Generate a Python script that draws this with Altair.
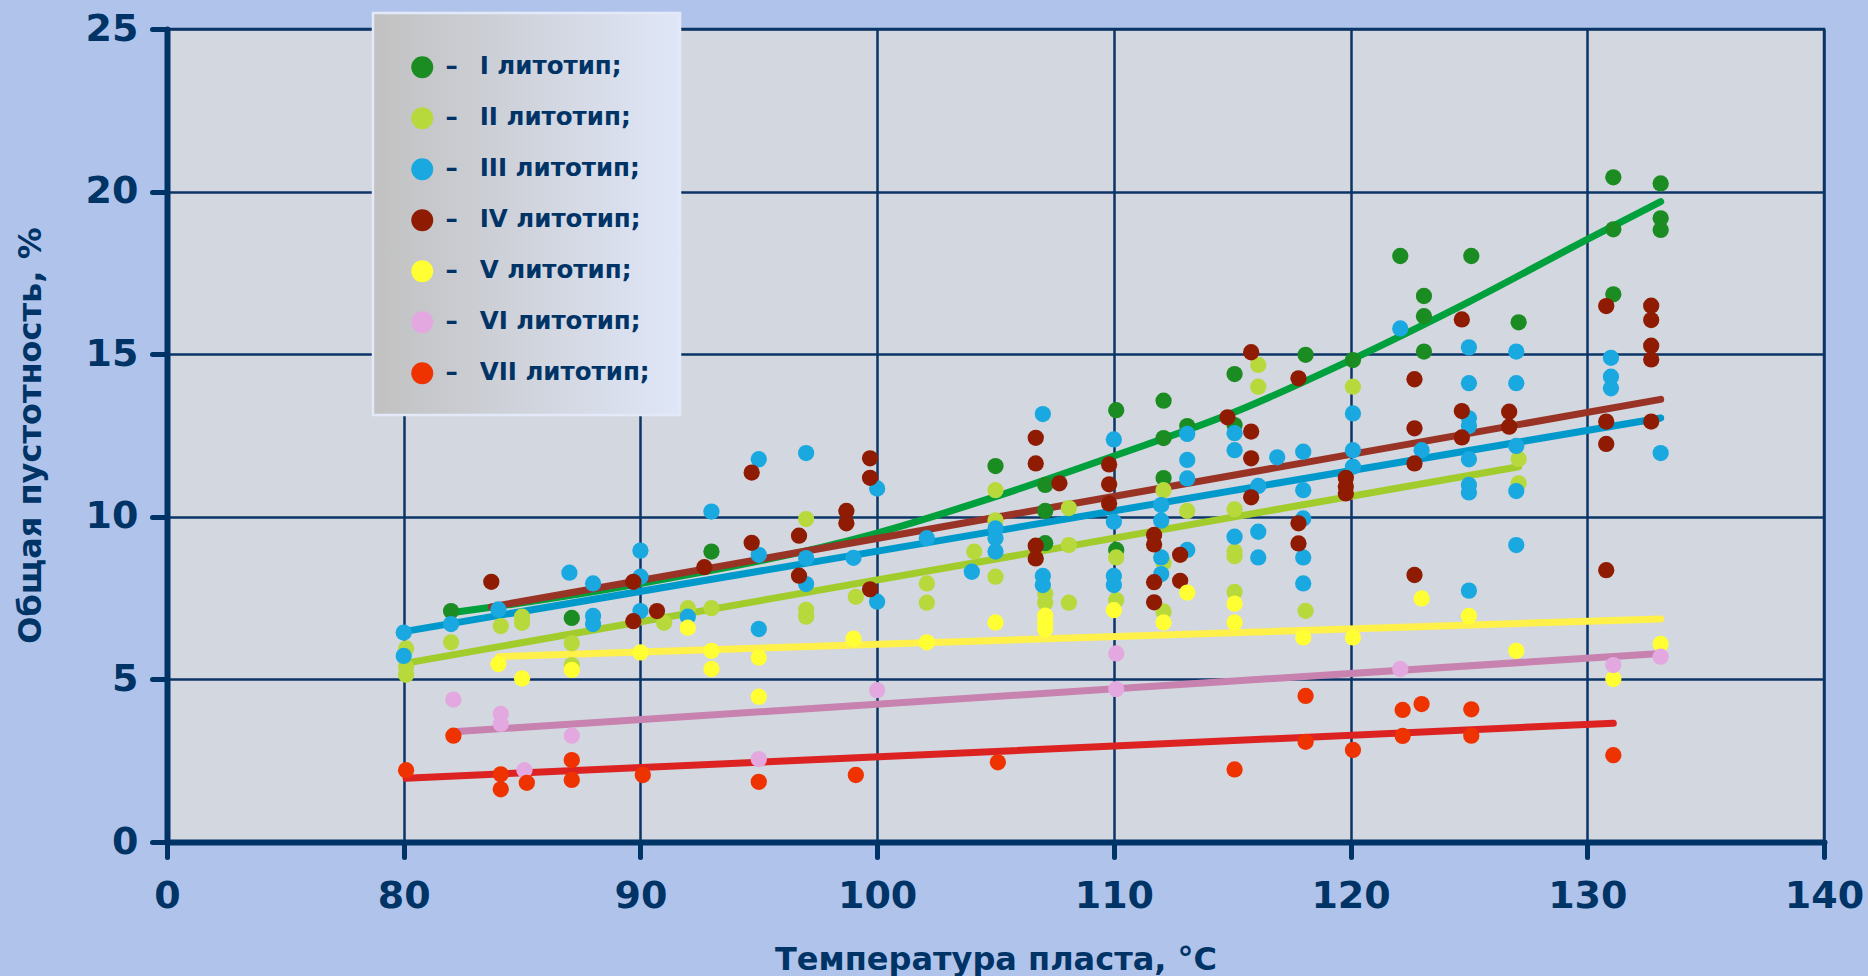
import altair as alt
import pandas as pd

# ---------------- data ----------------
SERIES = ["I литотип;", "II литотип;", "III литотип;", "IV литотип;",
          "V литотип;", "VI литотип;", "VII литотип;"]
POINT_COLORS = ["#1b8c22", "#b7d93c", "#19a9e0", "#8f1c02",
                "#ffff33", "#e4a8e0", "#ee3300"]
LINE_COLORS = ["#00a03c", "#a2cc2c", "#0099cc", "#993326",
               "#fff04a", "#c882b0", "#dd2222"]

I_x = [82, 87.1, 93, 105, 107.1, 107.1, 107.1, 110.1, 110.1, 112.1, 112.1, 112.1, 113.1,
       115.1, 115.1, 118.1, 120.1, 122.1, 123.1, 123.1, 123.1, 125.1, 127.1, 131.1, 131.1,
       131.1, 133.1, 133.1, 133.1]
I_y = [7.1, 6.89, 8.93, 11.56, 10.98, 10.18, 9.19, 13.28, 8.98, 13.57, 12.42, 11.19, 12.79,
       14.39, 12.82, 14.98, 14.82, 18.02, 16.79, 16.17, 15.08, 18.02, 15.98, 20.44, 18.84,
       16.84, 20.25, 19.18, 18.82]

II_x = [80.1, 80.1, 80.1, 82, 84.1, 85, 85, 87.1, 87.1, 91, 92, 93, 97, 97, 97, 99.1, 102.1,
        102.1, 104.1, 105, 105, 105, 107.1, 107.1, 108.1, 108.1, 108.1, 110.1, 110.1, 112.1,
        112.1, 112.1, 113.1, 115.1, 115.1, 115.1, 115.1, 116.1, 116.1, 118.1, 120.1, 127.1, 127.1]
II_y = [5.95, 5.39, 5.14, 6.14, 6.64, 6.93, 6.74, 6.11, 5.44, 6.74, 7.19, 7.19, 9.93, 7.14,
        6.93, 7.54, 7.95, 7.36, 8.93, 10.82, 9.89, 8.16, 7.64, 7.36, 9.13, 7.36, 10.27, 8.75,
        7.44, 10.82, 8.58, 7.09, 10.18, 10.23, 8.93, 8.79, 7.69, 14.67, 14.0, 7.11, 14.0,
        11.78, 11.03]

III_x = [80, 80, 82, 84, 87, 88, 88, 88, 90, 90, 90, 92, 93, 95, 95, 95, 97, 97, 97, 99, 100,
         100, 102.1, 104, 105, 105, 105, 107, 107, 107, 110, 110, 110, 110, 112, 112, 112, 112,
         113.1, 113.1, 113.1, 113.1, 115.1, 115.1, 115.1, 116.1, 116.1, 116.1, 116.9, 118, 118,
         118, 118, 118, 120.1, 120.1, 120.1, 122.1, 123, 125, 125, 125, 125, 125, 125, 125, 125,
         127, 127, 127, 127, 127, 131, 131, 131, 133.1]
III_y = [6.44, 5.72, 6.7, 7.15, 8.28, 7.95, 6.95, 6.7, 8.96, 8.16, 7.1, 6.93, 10.16, 11.77,
         8.83, 6.55, 11.96, 8.73, 7.93, 8.74, 10.87, 7.39, 9.34, 8.31, 9.64, 9.34, 8.93, 13.16,
         8.18, 7.9, 12.38, 9.85, 8.18, 7.9, 10.36, 9.88, 8.75, 8.24, 12.55, 11.75, 11.18, 8.98,
         12.57, 12.05, 9.39, 10.95, 9.54, 8.75, 11.83, 12.0, 10.82, 9.95, 8.75, 7.95, 13.18,
         12.05, 11.54, 15.79, 12.05, 15.21, 14.11, 13.03, 12.79, 11.77, 10.98, 10.75, 7.73,
         15.08, 14.11, 12.18, 10.79, 9.13, 14.89, 14.31, 13.95, 11.96]

IV_x = [83.7, 94.7, 94.7, 89.7, 89.7, 90.7, 92.7, 96.7, 96.7, 98.7, 98.7, 99.7, 99.7, 99.7,
        106.7, 106.7, 106.7, 106.7, 107.7, 109.8, 109.8, 109.8, 111.7, 111.7, 111.7, 111.7,
        112.8, 112.8, 114.8, 115.8, 115.8, 115.8, 115.8, 117.8, 117.8, 117.8, 119.8, 119.8,
        119.8, 122.7, 122.7, 122.7, 122.7, 124.7, 124.7, 124.7, 126.7, 126.7, 130.8, 130.8,
        130.8, 130.8, 132.7, 132.7, 132.7, 132.7, 132.7]
IV_y = [8.0, 11.36, 9.2, 8.0, 6.79, 7.1, 8.45, 9.42, 8.19, 10.18, 9.8, 11.8, 11.2, 7.77,
        12.43, 11.64, 9.11, 8.72, 11.03, 11.61, 11.0, 10.41, 9.44, 9.15, 7.99, 7.37, 8.83,
        8.03, 13.06, 15.06, 12.62, 11.8, 10.6, 14.26, 9.8, 9.18, 11.2, 10.93, 10.72, 14.23,
        12.72, 11.64, 8.21, 16.07, 13.25, 12.44, 13.23, 12.77, 16.48, 12.93, 12.24, 8.36,
        16.49, 16.05, 15.26, 14.84, 12.93]

V_x = [84, 85, 87.1, 90, 92, 93, 93, 95, 95, 99, 102.1, 105, 107.1, 107.1, 107.1, 110, 112.1,
       113.1, 115.1, 115.1, 118, 120.1, 123, 125, 127, 131.1, 133.1]
V_y = [5.47, 5.03, 5.29, 5.83, 6.59, 5.88, 5.32, 5.67, 4.47, 6.25, 6.14, 6.75, 6.96, 6.74,
       6.54, 7.13, 6.75, 7.67, 7.33, 6.75, 6.29, 6.29, 7.49, 6.95, 5.88, 5.01, 6.09]

VI_x = [82.1, 84.1, 84.1, 85.1, 87.1, 95, 100, 110.1, 110.1, 122.1, 131.1, 133.1]
VI_y = [4.38, 3.94, 3.63, 2.21, 3.27, 2.55, 4.67, 5.8, 4.7, 5.32, 5.44, 5.7]

VII_x = [80.1, 82.1, 84.1, 84.1, 85.2, 87.1, 87.1, 90.1, 95, 99.1, 105.1, 115.1, 118.1, 118.1,
         120.1, 122.2, 122.2, 123, 125.1, 125.1, 131.1]
VII_y = [2.21, 3.27, 2.08, 1.62, 1.82, 2.52, 1.91, 2.06, 1.85, 2.06, 2.45, 2.23, 4.49, 3.08,
         2.83, 4.06, 3.26, 4.24, 4.08, 3.27, 2.67]

# trend lines
TREND_I_x = [82, 84, 90, 100, 105, 110, 115, 120, 125, 130, 133.1]
TREND_I_y = [7.05, 7.25, 7.95, 9.5, 10.62, 11.87, 13.19, 14.82, 16.61, 18.53, 19.69]
TREND_II_x, TREND_II_y = [80.1, 127.1], [5.5, 11.54]
TREND_III_x, TREND_III_y = [80, 133.1], [6.47, 13.04]
TREND_IV_x, TREND_IV_y = [83.7, 133.1], [7.23, 13.61]
TREND_V_x, TREND_V_y = [84, 133.1], [5.7, 6.86]
TREND_VI_x, TREND_VI_y = [82.1, 133.1], [3.39, 5.8]
TREND_VII_x, TREND_VII_y = [80.1, 131.1], [1.96, 3.65]

X_TICKS = [70, 80, 90, 100, 110, 120, 130, 140]   # first tick shown as "0" (broken axis)
Y_TICKS = [0, 5, 10, 15, 20, 25]

# ---------------- tables ----------------
pts_xy = [(I_x, I_y), (II_x, II_y), (III_x, III_y), (IV_x, IV_y),
          (V_x, V_y), (VI_x, VI_y), (VII_x, VII_y)]
trend_xy = [(TREND_I_x, TREND_I_y), (TREND_II_x, TREND_II_y), (TREND_III_x, TREND_III_y),
            (TREND_IV_x, TREND_IV_y), (TREND_V_x, TREND_V_y), (TREND_VI_x, TREND_VI_y),
            (TREND_VII_x, TREND_VII_y)]

rows = []
for k, (name, (xs, ys)) in enumerate(zip(SERIES, pts_xy)):
    for a, b in zip(xs, ys):
        rows.append({"x": a, "y": b, "s": name, "k": k})
points_df = pd.DataFrame(rows)

rows = []
for k, (name, (xs, ys)) in enumerate(zip(SERIES, trend_xy)):
    for a, b in zip(xs, ys):
        rows.append({"x": a, "y": b, "s": name, "k": k})
trend_df = pd.DataFrame(rows)

NAVY = "#003366"
FONT = "DejaVu Sans"

x_enc = alt.X("x:Q", scale=alt.Scale(domain=[70, 140], nice=False, zero=False),
              axis=alt.Axis(values=X_TICKS, title="Температура пласта, °С",
                            labelExpr="datum.value == 70 ? '0' : datum.label",
                            labelFlush=False, labelPadding=20,
                            titleY=117, titleBaseline="middle"))
y_enc = alt.Y("y:Q", scale=alt.Scale(domain=[0, 25], nice=False),
              axis=alt.Axis(values=Y_TICKS, title="Общая пустотность, %",
                            labelFlush=False, labelPadding=14,
                            titleX=-137, titleY=406, titleBaseline="middle"))

gradient_expr = ("{id: 'lgbg', gradient: 'linear', x1: 0, y1: 0, x2: 1, y2: 0, "
                 "stops: [{offset: 0, color: '#c1c1c1'}, {offset: 1, color: '#dfe6f7'}]}")

lines = alt.Chart(trend_df).mark_line(strokeWidth=7, strokeCap="round",
                                      interpolate="monotone").encode(
    x=x_enc, y=y_enc,
    stroke=alt.Stroke("k:N", scale=alt.Scale(domain=list(range(len(SERIES))),
                                             range=LINE_COLORS), legend=None),
    detail="k:N",
)

points = alt.Chart(points_df).mark_circle(size=265, opacity=1).encode(
    x=x_enc, y=y_enc,
    fill=alt.Fill("s:N", scale=alt.Scale(domain=SERIES, range=POINT_COLORS),
                  legend=alt.Legend(
                      title="\u00a0", titleFontSize=4, titlePadding=8,
                      orient="none", legendX=206, legendY=-16,
                      padding=30, rowPadding=26, symbolSize=484, symbolType="circle",
                      symbolOffset=7,
                      symbolStrokeWidth=0, symbolOpacity=1,
                      labelFont=FONT, labelFontWeight="bold", labelFontSize=24.5,
                      labelColor=NAVY, labelOffset=11, labelLimit=500,
                      labelExpr="'\u2013\u00a0\u00a0\u2009' + datum.label",
                      fillColor={"expr": gradient_expr})),
    order=alt.Order("k:Q"),
)

chart = alt.layer(lines, points).resolve_legend(stroke="independent").properties(
    width=1657, height=813,
    autosize=alt.AutoSizeParams(type="none"),
    padding={"left": 167, "top": 29, "right": 44, "bottom": 134},
    background="#b0c4eb",
).configure_view(
    fill="#d3d7df", stroke="#0b3566", strokeWidth=2.5,
).configure_axis(
    domainColor=NAVY, domainWidth=6, domainCap="round",
    tickColor=NAVY, tickWidth=5, tickSize=15, tickCap="round",
    grid=True, gridColor="#0b3566", gridWidth=2.5, gridOpacity=1,
    labelFont=FONT, labelFontWeight="bold", labelFontSize=38, labelColor=NAVY,
    titleFont=FONT, titleFontWeight="bold", titleFontSize=32, titleColor=NAVY,
).configure_legend(
    strokeColor="#e3e9f8", strokeWidth=2.5,
)

chart.save("out.html", embed_options={"renderer": "svg", "actions": False})
